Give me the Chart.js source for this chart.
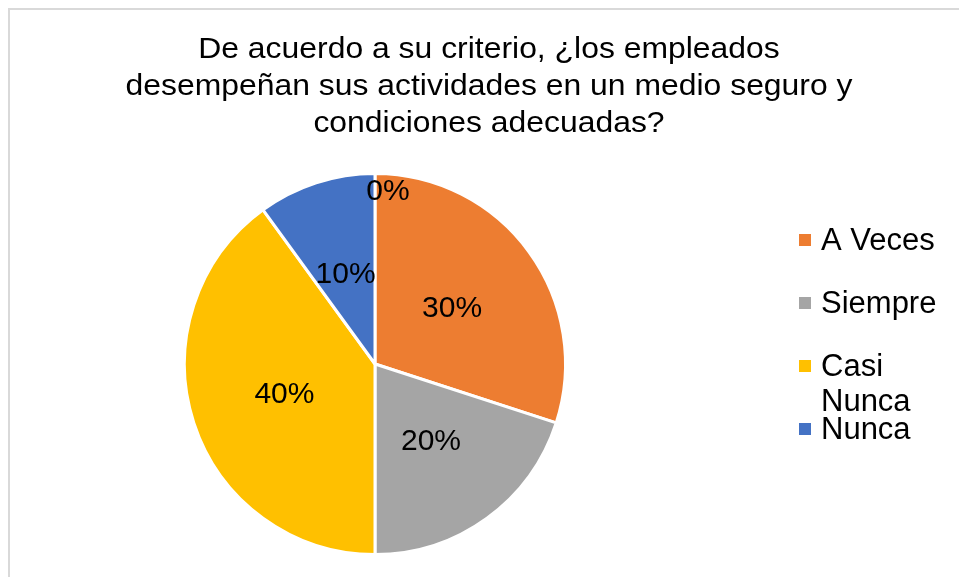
<!DOCTYPE html>
<html>
<head>
<meta charset="utf-8">
<script src="https://cdn.jsdelivr.net/npm/chart.js@4.4.1/dist/chart.umd.min.js"></script>
<style>
    body { margin: 0; background: #fff; }
    #wrap { width: 959px; height: 577px; position: relative; }
</style>
</head>
<body>
<div id="wrap"><canvas id="main-chart"></canvas></div>
<script>
const title_lines = [
    'De acuerdo a su criterio, ¿los empleados',
    'desempeñan sus actividades en un medio seguro y',
    'condiciones adecuadas?',
];

const categories = ['A Veces', 'Siempre', 'Casi Nunca', 'Nunca', ''];
const values = [30, 20, 40, 10, 0];
const slice_colors = ['#ED7D31', '#A5A5A5', '#FFC000', '#4472C4', '#5B9BD5'];

const font_family = '"Liberation Sans", Arial, sans-serif';

// frame, title, data labels and legend drawn by hand
const decor = {
    id: 'decor',
    beforeDraw(chart) {
        const ctx = chart.ctx;
        ctx.save();
        ctx.strokeStyle = '#D9D9D9';
        ctx.lineWidth = 2;
        ctx.strokeRect(9, 9, 1200, 1200);

        ctx.fillStyle = '#000';
        ctx.font = '29px ' + font_family;
        ctx.textAlign = 'center';
        ctx.textBaseline = 'alphabetic';
        title_lines.forEach((line, i) => {
            ctx.save();
            ctx.translate(489, 58 + i * 37);
            ctx.scale(1.1, 1);
            ctx.fillText(line, 0, 0);
            ctx.restore();
        });
        ctx.restore();
    },
    afterDraw(chart) {
        const ctx = chart.ctx;
        const meta = chart.getDatasetMeta(0);
        const total = values.reduce((a, b) => a + b, 0);
        ctx.save();
        ctx.fillStyle = '#000';
        ctx.font = '30px ' + font_family;
        ctx.textAlign = 'center';
        ctx.textBaseline = 'middle';
        meta.data.forEach((arc, i) => {
            const pct = Math.round(values[i] / total * 100) + '%';
            let pos;
            if (values[i] === 0) {
                const a = arc.startAngle;
                const r = arc.outerRadius * 0.91;
                pos = { x: arc.x + Math.cos(a) * r + 13, y: arc.y + Math.sin(a) * r };
            } else {
                pos = arc.tooltipPosition();
            }
            ctx.fillText(pct, pos.x, pos.y + 1);
        });

        // legend
        ctx.font = '31px ' + font_family;
        ctx.textAlign = 'left';
        ctx.textBaseline = 'alphabetic';
        let y = 240;
        categories.forEach((cat, i) => {
            if (!cat) return;
            ctx.fillStyle = slice_colors[i];
            ctx.fillRect(799, y - 6, 12, 12);
            ctx.fillStyle = '#000';
            const words = cat.split(' ');
            const lines = [];
            let cur = '';
            words.forEach(w => {
                const test = cur ? cur + ' ' + w : w;
                if (cur && ctx.measureText(test).width > 130) {
                    lines.push(cur);
                    cur = w;
                } else {
                    cur = test;
                }
            });
            lines.push(cur);
            lines.forEach((l, j) => ctx.fillText(l, 821, y + 10 + j * 35));
            y += 63;
        });
        ctx.restore();
    }
};

const config = {
    type: 'pie',
    data: {
        labels: categories,
        datasets: [{
            data: values,
            backgroundColor: slice_colors,
            borderColor: '#fff',
            borderWidth: 3,
        }]
    },
    options: {
        responsive: true,
        maintainAspectRatio: false,
        animation: false,
        layout: {
            padding: { left: 183, right: 392, top: 172, bottom: 21 }
        },
        plugins: {
            legend: { display: false },
            title: { display: false },
            tooltip: { enabled: false },
        }
    },
    plugins: [decor]
};

const myChart = new Chart(document.getElementById('main-chart'), config);
</script>
</body>
</html>
